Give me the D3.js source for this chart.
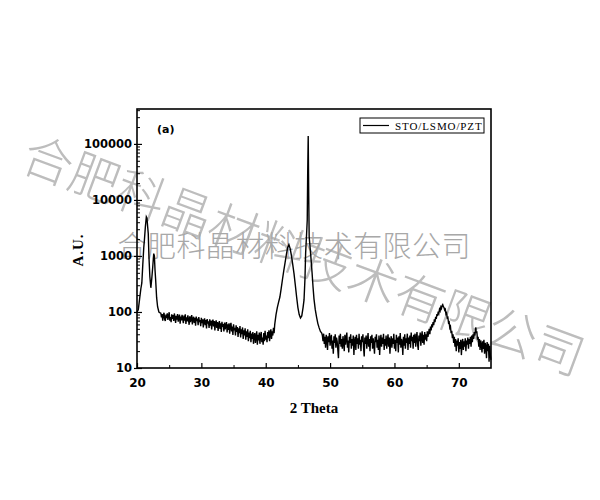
<!DOCTYPE html>
<html>
<head>
<meta charset="utf-8">
<script src="https://cdn.jsdelivr.net/npm/d3@7"></script>
<style>
  html, body { margin: 0; padding: 0; background: #fff; }
  svg { display: block; }
</style>
</head>
<body>
<svg id="chart" width="600" height="500"></svg>
<script>
// ---------------- data ----------------
// each segment: [2-theta (deg), intensity (a.u.)]
const lowAnglePeaks = [
  [20.0,100],[20.2,109],[20.4,170],[20.6,260],[20.75,330],[20.9,700],[21.05,1400],[21.15,1930],
  [21.3,3300],[21.45,4970],[21.55,4700],[21.65,3400],[21.75,2500],[21.85,1000],[22.0,425],
  [22.15,270],[22.3,400],[22.45,650],[22.6,1100],[22.7,1000],[22.8,560],[22.9,372],[23.05,180],
  [23.2,124],[23.4,100],[23.6,96]
];
const background1 = [
  [23.7,95],[23.8,80],[23.9,92],[24.0,70],[24.1,88],[24.2,97],[24.3,74],[24.4,69],[24.5,90],[24.6,78],
  [24.7,95],[24.8,72],[24.9,84],[25.0,99],[25.1,70],[25.2,81],[25.3,66],[25.4,91],[25.5,75],[25.6,88],
  [25.7,69],[25.8,94],[25.9,80],[26.0,64],[26.1,85],[26.2,73],[26.3,92],[26.4,67],[26.5,79],[26.6,90],
  [26.7,62],[26.8,83],[26.9,71],[27.0,89],[27.1,76],[27.2,63],[27.3,86],[27.4,70],[27.5,91],[27.6,61],
  [27.7,80],[27.8,68],[27.9,87],[28.0,73],[28.1,59],[28.2,84],[28.3,66],[28.4,78],[28.5,88],[28.6,60],
  [28.7,75],[28.8,82],[28.9,64],[29.0,79],[29.1,57],[29.2,83],[29.3,69],[29.4,76],[29.5,58],[29.6,81],
  [29.7,66],[29.8,72],[29.9,56],[30.0,79],[30.1,63],[30.2,74],[30.3,53],[30.4,70],[30.5,77],[30.6,58],
  [30.7,72],[30.8,51],[30.9,75],[31.0,62],[31.1,68],[31.2,52],[31.3,74],[31.4,57],[31.5,70],[31.6,49],
  [31.7,66],[31.8,73],[31.9,55],[32.0,69],[32.1,47],[32.2,64],[32.3,71],[32.4,52],[32.5,66],[32.6,46],
  [32.7,60],[32.8,69],[32.9,50],[33.0,63],[33.1,44],[33.2,67],[33.3,54],[33.4,61],[33.5,45],[33.6,65],
  [33.7,49],[33.8,58],[33.9,66],[34.0,43],[34.1,60],[34.2,48],[34.3,63],[34.4,41],[34.5,57],[34.6,64],
  [34.7,45],[34.8,55],[34.9,39],[35.0,60],[35.1,47],[35.2,52],[35.3,38],[35.4,58],[35.5,44],[35.6,54],
  [35.7,36],[35.8,51],[35.9,42],[36.0,56],[36.1,35],[36.2,49],[36.3,40],[36.4,53],[36.5,33],[36.6,47],
  [36.7,38],[36.8,51],[36.9,32],[37.0,45],[37.1,36],[37.2,49],[37.3,30],[37.4,43],[37.5,34],[37.6,46],
  [37.7,29],[37.8,41],[37.9,33],[38.0,44],[38.1,27],[38.2,38],[38.3,42],[38.4,28],[38.5,36],[38.6,45],
  [38.7,26],[38.8,39],[38.9,31],[39.0,43],[39.1,27],[39.2,37],[39.3,44],[39.4,29],[39.5,35],[39.6,26],
  [39.7,42],[39.8,30],[39.9,46],[40.0,32],[40.1,38],[40.2,29],[40.3,44],[40.4,34],[40.5,47],[40.6,30],
  [40.7,41],[40.8,49],[40.9,33],[41.0,45],[41.1,38],[41.2,52],[41.3,42]
];
const midPeaks = [
  [41.4,60],[41.6,90],[41.8,120],[42.0,150],[42.2,185],[42.4,260],[42.6,380],[42.8,540],[43.0,750],
  [43.2,1050],[43.4,1400],[43.6,1600],[43.8,1350],[44.0,1000],[44.2,700],[44.4,480],[44.6,300],
  [44.8,185],[45.0,120],[45.2,90],[45.4,78],[45.6,85],[45.8,120],[45.95,164],[46.1,400],[46.2,1130],
  [46.35,2500],[46.45,4400],[46.52,30000],[46.6,138000],[46.68,12000],[46.75,2200],[46.9,1400],
  [47.05,850],[47.2,500],[47.35,280],[47.5,170],[47.7,110],[47.9,81],[48.1,62],[48.3,52],[48.5,45],[48.7,42]
];
const background2 = [
  [48.8,38],[48.9,30],[49.0,41],[49.1,27],[49.2,36],[49.3,23],[49.4,39],[49.5,33],[49.6,21],[49.7,37],
  [49.8,29],[49.9,42],[50.0,25],[50.1,34],[50.2,39],[50.3,22],[50.4,31],[50.5,18],[50.6,37],[50.7,28],
  [50.8,40],[50.9,23],[51.0,35],[51.1,30],[51.2,21],[51.3,15],[51.4,38],[51.5,27],[51.6,41],[51.7,24],
  [51.8,33],[51.9,22],[52.0,37],[52.1,29],[52.2,20],[52.3,39],[52.4,26],[52.5,34],[52.6,43],[52.7,23],
  [52.8,31],[52.9,19],[53.0,36],[53.1,28],[53.2,40],[53.3,22],[53.4,33],[53.5,25],[53.6,38],[53.7,17],
  [53.8,30],[53.9,36],[54.0,21],[54.1,39],[54.2,27],[54.3,34],[54.4,22],[54.5,41],[54.6,26],[54.7,32],
  [54.8,20],[54.9,37],[55.0,29],[55.1,40],[55.2,23],[55.3,16],[55.4,35],[55.5,27],[55.6,38],[55.7,22],
  [55.8,31],[55.9,42],[56.0,24],[56.1,33],[56.2,20],[56.3,37],[56.4,28],[56.5,39],[56.6,22],[56.7,34],
  [56.8,26],[56.9,18],[57.0,36],[57.1,29],[57.2,40],[57.3,23],[57.4,32],[57.5,21],[57.6,38],[57.7,17],
  [57.8,30],[57.9,39],[58.0,24],[58.1,35],[58.2,27],[58.3,41],[58.4,21],[58.5,33],[58.6,25],[58.7,38],
  [58.8,22],[58.9,31],[59.0,40],[59.1,24],[59.2,35],[59.3,18],[59.4,30],[59.5,37],[59.6,23],[59.7,34],
  [59.8,27],[59.9,41],[60.0,22],[60.1,32],[60.2,20],[60.3,39],[60.4,28],[60.5,35],[60.6,19],[60.7,37],
  [60.8,26],[60.9,42],[61.0,23],[61.1,33],[61.2,29],[61.3,17],[61.4,36],[61.5,25],[61.6,40],[61.7,22],
  [61.8,34],[61.9,28],[62.0,41],[62.1,21],[62.2,35],[62.3,27],[62.4,38],[62.5,23],[62.6,43],[62.7,30],
  [62.8,36],[62.9,22],[63.0,39],[63.1,28],[63.2,41],[63.3,24],[63.4,34],[63.5,44],[63.6,26],[63.7,21],
  [63.8,38],[63.9,30],[64.0,43],[64.1,25],[64.2,36],[64.3,45],[64.4,28],[64.5,39],[64.6,26],[64.7,44],
  [64.8,32],[64.9,40],[65.0,30]
];
const highAnglePeaks = [
  [65.1,45],[65.2,36],[65.3,42],[65.4,50],[65.5,40],[65.6,55],[65.7,47],[65.8,60],[65.9,53],[66.0,66],
  [66.1,58],[66.2,74],[66.3,66],[66.4,82],[66.5,75],[66.6,92],[66.7,85],[66.8,102],[66.9,95],[67.0,112],
  [67.1,105],[67.2,122],[67.3,115],[67.4,130],[67.5,135],[67.6,124],[67.7,120],[67.8,108],[67.9,112],
  [68.0,92],[68.1,96],[68.2,78],[68.3,80],[68.4,64],[68.5,66],[68.6,52],[68.7,55],[68.8,42],[68.9,46],
  [69.0,34],[69.1,40],[69.2,28]
];
const background3 = [
  [69.3,36],[69.4,24],[69.5,33],[69.6,20],[69.7,31],[69.8,25],[69.9,34],[70.0,19],[70.1,29],[70.2,22],
  [70.3,32],[70.4,17],[70.5,28],[70.6,33],[70.7,21],[70.8,30],[70.9,24],[71.0,34],[71.1,20],[71.2,31],
  [71.3,26],[71.4,35],[71.5,22],[71.6,33],[71.7,27],[71.8,36],[71.9,24],[72.0,38],[72.1,29],[72.2,40],
  [72.3,33],[72.4,44],[72.5,38],[72.6,50],[72.65,53],[72.7,42],[72.8,45],[72.9,32],[73.0,36],[73.1,24],
  [73.2,33],[73.3,21],[73.4,31],[73.5,26],[73.6,19],[73.7,30],[73.8,22],[73.9,32],[74.0,18],[74.1,28],
  [74.2,24],[74.3,15],[74.4,29],[74.5,20],[74.6,27],[74.7,13],[74.8,25],[74.9,17],[75.0,14]
];
const xMajorTicks = [20, 30, 40, 50, 60, 70];
const xMinorTicks = [25, 35, 45, 55, 65];
const yMajorTicks = [10, 100, 1000, 10000, 100000];
const seriesName = "STO/LSMO/PZT";
const xTitle = "2 Theta";
const yTitle = "A.U.";
const panelLabel = "(a)";
const watermark = "合肥科晶材料技术有限公司";

// ---------------- drawing ----------------
const svg = d3.select("#chart");
const pLeft = 137, pRight = 491, pTop = 109, pBottom = 368;

const x = d3.scaleLinear().domain([20, 75]).range([pLeft, pRight]);
const y = d3.scaleLog().domain([10, 4.2e5]).range([pBottom, pTop]);

// watermarks (under the chart)
svg.append("text")
  .attr("transform", "translate(305,252) rotate(20.4)")
  .attr("text-anchor", "middle")
  .attr("dominant-baseline", "central")
  .attr("font-family", "'Noto Sans CJK SC', sans-serif")
  .attr("font-weight", 300)
  .attr("font-size", 50)
  .attr("textLength", 595)
  .attr("lengthAdjust", "spacing")
  .attr("fill", "#bdbdbd")
  .text(watermark);

svg.append("text")
  .attr("x", 294).attr("y", 244)
  .attr("text-anchor", "middle")
  .attr("dominant-baseline", "central")
  .attr("font-family", "'Noto Sans CJK SC', sans-serif")
  .attr("font-weight", 300)
  .attr("font-size", 29)
  .attr("textLength", 353)
  .attr("lengthAdjust", "spacing")
  .attr("fill", "#a8a8a8")
  .text(watermark);

// data line
const data = [].concat(lowAnglePeaks, background1, midPeaks, background2, highAnglePeaks, background3);
const line = d3.line().x(d => x(d[0])).y(d => y(d[1]));
svg.append("path")
  .datum(data)
  .attr("d", line)
  .attr("fill", "none")
  .attr("stroke", "#000")
  .attr("stroke-width", 1.4)
  .attr("stroke-linejoin", "miter");

// axes
const tickFont = "'DejaVu Sans', Verdana, sans-serif";

const xAxis = svg.append("g")
  .attr("transform", `translate(0,${pBottom})`)
  .call(d3.axisBottom(x).tickValues(xMajorTicks).tickFormat(d3.format("d"))
        .tickSizeInner(-5).tickSizeOuter(0).tickPadding(10));
xAxis.select(".domain").remove();
xAxis.selectAll("text").attr("font-family", tickFont).attr("font-weight", "bold")
  .attr("font-size", 12).attr("fill", "#000");
xAxis.selectAll("line").attr("stroke-width", 1.2);

const xMinor = svg.append("g")
  .attr("transform", `translate(0,${pBottom})`)
  .call(d3.axisBottom(x).tickValues(xMinorTicks).tickFormat("").tickSizeInner(-3).tickSizeOuter(0));
xMinor.select(".domain").remove();

const yAxis = svg.append("g")
  .attr("transform", `translate(${pLeft},0)`)
  .call(d3.axisLeft(y).tickValues(yMajorTicks).tickFormat(d3.format("d"))
        .tickSizeInner(-5).tickSizeOuter(0).tickPadding(5));
yAxis.select(".domain").remove();
yAxis.selectAll(".tick line").attr("x1", -3).attr("stroke-width", 1.2);
yAxis.selectAll("text").attr("font-family", tickFont).attr("font-weight", "bold")
  .attr("font-size", 11.5).attr("fill", "#000");

const yMinorValues = y.ticks().filter(v => !yMajorTicks.includes(v));
const yMinor = svg.append("g")
  .attr("transform", `translate(${pLeft},0)`)
  .call(d3.axisLeft(y).tickValues(yMinorValues).tickFormat("").tickSizeInner(-3).tickSizeOuter(0));
yMinor.select(".domain").remove();

// frame
svg.append("rect")
  .attr("x", pLeft).attr("y", pTop)
  .attr("width", pRight - pLeft).attr("height", pBottom - pTop)
  .attr("fill", "none").attr("stroke", "#000").attr("stroke-width", 1.6);

// titles
svg.append("text")
  .attr("x", (pLeft + pRight) / 2).attr("y", 413)
  .attr("text-anchor", "middle")
  .attr("font-family", "'Liberation Serif', 'Times New Roman', serif")
  .attr("font-weight", "bold").attr("font-size", 15)
  .text(xTitle);

svg.append("text")
  .attr("transform", "translate(83,250) rotate(-90)")
  .attr("text-anchor", "middle")
  .attr("font-family", "'Liberation Serif', 'Times New Roman', serif")
  .attr("font-weight", "bold")
  .attr("font-size", 15).attr("letter-spacing", 1)
  .text(yTitle);

svg.append("text")
  .attr("x", 157).attr("y", 133)
  .attr("font-family", tickFont)
  .attr("font-weight", "bold").attr("font-size", 11)
  .text(panelLabel);

// legend
const lg = svg.append("g");
lg.append("rect")
  .attr("x", 360).attr("y", 118).attr("width", 124).attr("height", 15)
  .attr("fill", "#fff").attr("stroke", "#000").attr("stroke-width", 1);
lg.append("line")
  .attr("x1", 363).attr("x2", 389).attr("y1", 125.5).attr("y2", 125.5)
  .attr("stroke", "#000").attr("stroke-width", 1.2);
lg.append("text")
  .attr("x", 395).attr("y", 129.5)
  .attr("font-family", "'Liberation Serif', 'Times New Roman', serif")
  .attr("font-size", 11).attr("letter-spacing", 0.9)
  .text(seriesName);
</script>
</body>
</html>
